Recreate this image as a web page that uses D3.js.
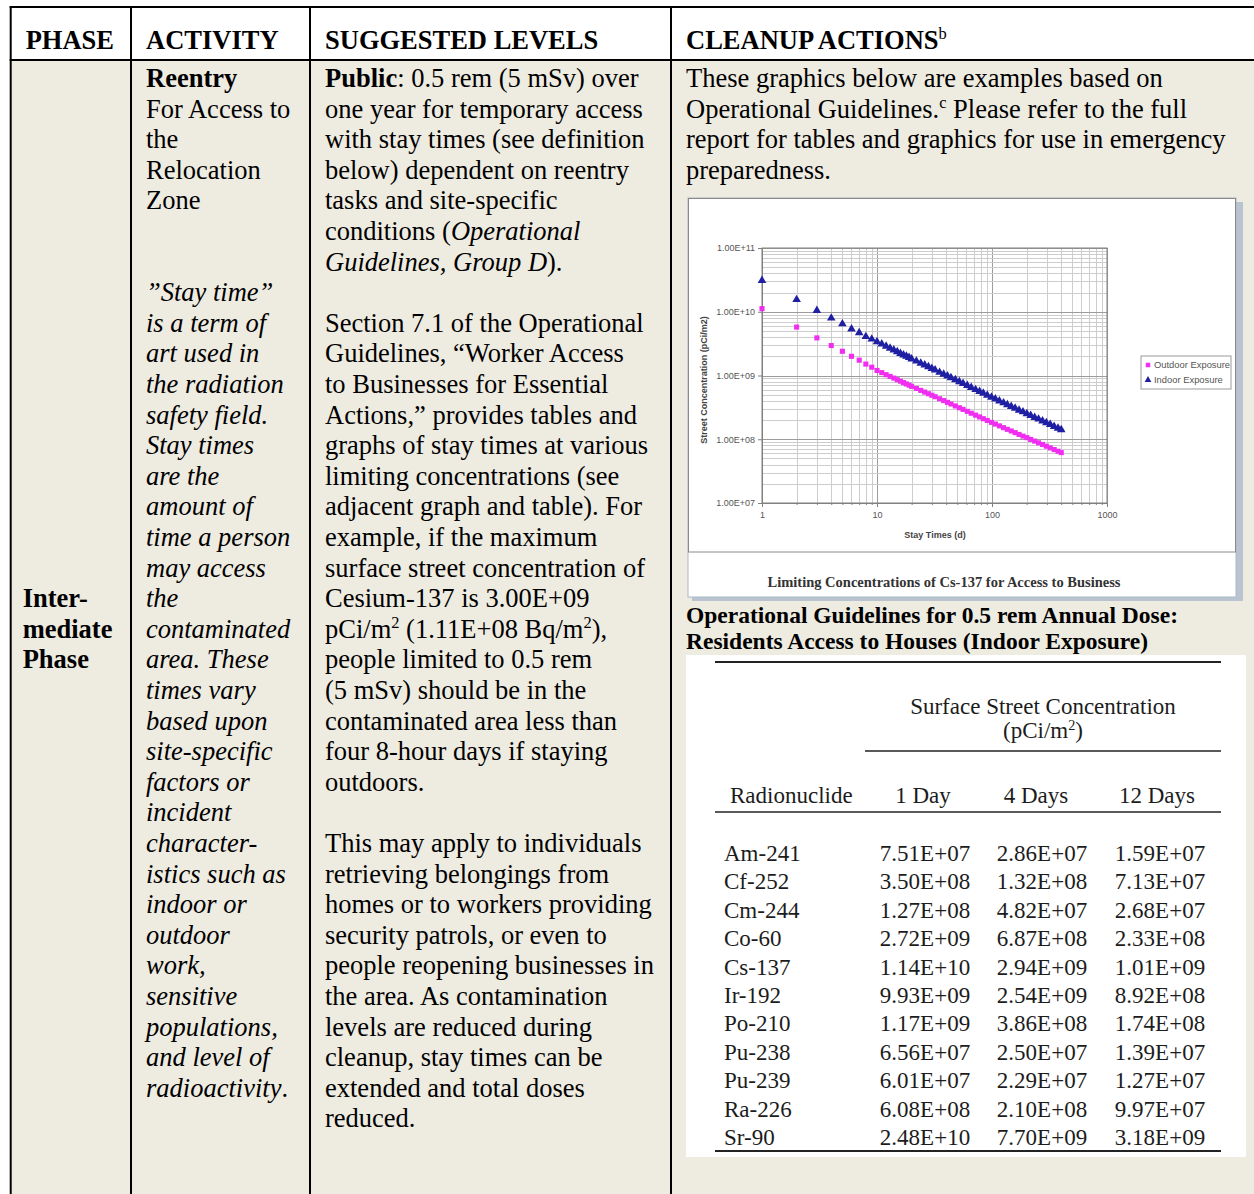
<!DOCTYPE html>
<meta charset="utf-8">
<script src="https://cdn.jsdelivr.net/npm/d3@7/dist/d3.min.js"></script>
<style>
  body { margin: 0; background: #fff; }
  svg text { white-space: pre; }
</style>

<svg width="1254" height="1194"></svg>

<script>
// ---------- table text ----------
// markup: **bold**, _italic_, ^superscript^
var headers = ["PHASE", "ACTIVITY", "SUGGESTED LEVELS", "CLEANUP ACTIONS^b^"];

var phaseLines = ["Inter-", "mediate", "Phase"];

var activityLines = [
  "**Reentry**", "For Access to", "the", "Relocation", "Zone", "", "",
  "_\u201dStay time\u201d_", "_is a term of_", "_art used in_", "_the radiation_",
  "_safety field._", "_Stay times_", "_are the_", "_amount of_", "_time a person_",
  "_may access_", "_the_", "_contaminated_", "_area. These_", "_times vary_",
  "_based upon_", "_site-specific_", "_factors or_", "_incident_", "_character-_",
  "_istics such as_", "_indoor or_", "_outdoor_", "_work,_", "_sensitive_",
  "_populations,_", "_and level of_", "_radioactivity_."
];

var levelLines = [
  "**Public**: 0.5 rem (5 mSv) over",
  "one year for temporary access",
  "with stay times (see definition",
  "below) dependent on reentry",
  "tasks and site-specific",
  "conditions (_Operational_",
  "_Guidelines, Group D_).",
  "",
  "Section 7.1 of the Operational",
  "Guidelines, \u201cWorker Access",
  "to Businesses for Essential",
  "Actions,\u201d provides tables and",
  "graphs of stay times at various",
  "limiting concentrations (see",
  "adjacent graph and table). For",
  "example, if the maximum",
  "surface street concentration of",
  "Cesium-137 is 3.00E+09",
  "pCi/m^2^ (1.11E+08 Bq/m^2^),",
  "people limited to 0.5 rem",
  "(5 mSv) should be in the",
  "contaminated area less than",
  "four 8-hour days if staying",
  "outdoors.",
  "",
  "This may apply to individuals",
  "retrieving belongings from",
  "homes or to workers providing",
  "security patrols, or even to",
  "people reopening businesses in",
  "the area. As contamination",
  "levels are reduced during",
  "cleanup, stay times can be",
  "extended and total doses",
  "reduced."
];

var cleanupLines = [
  "These graphics below are examples based on",
  "Operational Guidelines.^c^ Please refer to the full",
  "report for tables and graphics for use in emergency",
  "preparedness."
];

// ---------- chart data ----------
var chartTitle = "Limiting Concentrations of Cs-137 for Access to Business";
var seriesNames = ["Outdoor Exposure", "Indoor Exposure"];
var xTitle = "Stay Times (d)";
var yTitle = "Street Concentration (pCi/m2)";
var xTicks = [1, 10, 100, 1000];
var yTicks = [1e7, 1e8, 1e9, 1e10, 1e11];

var stayDays = [1, 2, 3, 4, 5, 6, 7, 8, 9, 10, 11, 12, 13, 14, 15, 16, 17, 18, 19, 20,
  22, 24, 26, 28, 30, 32, 35, 38, 41, 44, 48, 52, 56, 61, 66, 72, 78, 84, 91, 99,
  107, 116, 126, 136, 147, 159, 172, 186, 201, 217, 235, 254, 275, 297, 321, 347, 375, 400];

var outdoorConc = [1.12e10, 5.75e9, 3.89e9, 2.95e9, 2.40e9, 2.00e9, 1.74e9, 1.51e9, 1.35e9, 1.20e9,
  1.11e9, 1.03e9, 9.68e8, 9.10e8, 8.59e8, 8.14e8, 7.74e8, 7.38e8, 7.06e8, 6.76e8,
  6.27e8, 5.85e8, 5.49e8, 5.18e8, 4.90e8,
  4.65e8, 4.32e8, 4.04e8, 3.79e8, 3.58e8, 3.33e8, 3.12e8, 2.94e8,
  2.74e8, 2.56e8, 2.39e8, 2.24e8, 2.10e8, 1.97e8, 1.84e8,
  1.73e8, 1.62e8, 1.52e8, 1.43e8, 1.35e8, 1.27e8, 1.19e8, 1.12e8,
  1.06e8, 9.94e7, 9.35e7, 8.80e7, 8.27e7, 7.78e7, 7.32e7, 6.90e7, 6.49e7, 6.17e7];

var indoorConc = [3.09e10, 1.55e10, 1.05e10, 7.94e9, 6.46e9, 5.37e9, 4.68e9, 4.07e9, 3.72e9, 3.39e9,
  3.11e9, 2.88e9, 2.68e9, 2.51e9, 2.36e9, 2.22e9, 2.10e9, 2.00e9, 1.91e9, 1.82e9,
  1.68e9, 1.56e9, 1.46e9, 1.37e9, 1.29e9,
  1.22e9, 1.12e9, 1.05e9, 9.82e8, 9.25e8, 8.55e8, 7.98e8, 7.48e8,
  6.95e8, 6.49e8, 6.01e8, 5.61e8, 5.26e8, 4.91e8, 4.56e8,
  4.27e8, 3.99e8, 3.72e8, 3.49e8, 3.27e8, 3.06e8, 2.86e8, 2.69e8,
  2.51e8, 2.36e8, 2.20e8, 2.07e8, 1.93e8, 1.81e8, 1.70e8, 1.59e8, 1.49e8, 1.41e8];

// ---------- concentration table ----------
var tableCaption = ["Operational Guidelines for 0.5 rem Annual Dose:",
  "Residents Access to Houses (Indoor Exposure)"];
var tableGroup = ["Surface Street Concentration", "(pCi/m^2^)"];
var tableHead = ["Radionuclide", "1 Day", "4 Days", "12 Days"];
var nuclides = ["Am-241", "Cf-252", "Cm-244", "Co-60", "Cs-137", "Ir-192",
  "Po-210", "Pu-238", "Pu-239", "Ra-226", "Sr-90"];
var conc1Day = [7.51e7, 3.50e8, 1.27e8, 2.72e9, 1.14e10, 9.93e9, 1.17e9, 6.56e7, 6.01e7, 6.08e8, 2.48e10];
var conc4Days = [2.86e7, 1.32e8, 4.82e7, 6.87e8, 2.94e9, 2.54e9, 3.86e8, 2.50e7, 2.29e7, 2.10e8, 7.70e9];
var conc12Days = [1.59e7, 7.13e7, 2.68e7, 2.33e8, 1.01e9, 8.92e8, 1.74e8, 1.39e7, 1.27e7, 9.97e7, 3.18e9];

// ---------- layout ----------
var svg = d3.select("svg"),
  width = +svg.attr("width"),
  height = +svg.attr("height");

var serif = "'Liberation Serif', 'Times New Roman', serif",
  sans = "'Liberation Sans', Arial, sans-serif";

var colX = [10.7, 131, 310, 671],
  pad = 15,
  topY = 7,
  headY = 60,
  bodyFont = 26.5,
  lineH = 30.6,
  base0 = 87;

//Writes one line with **bold**, _italic_ and ^sup^ runs
function richText(g, x, y, str, fs, opts) {
  opts = opts || {};
  var t = g.append("text")
    .attr("x", x)
    .attr("y", y)
    .attr("font-family", opts.family || serif)
    .attr("font-size", fs)
    .attr("fill", opts.fill || "#000")
    .attr("text-anchor", opts.anchor || "start")
    .attr("font-weight", opts.bold ? "bold" : "normal");
  var parts = str.split(/(\*\*[^*]+\*\*|_[^_]+_|\^[^^]+\^)/).filter(function(s) { return s.length; });
  var shift = 0;
  parts.forEach(function(p) {
    var s = t.append("tspan"), target = 0;
    if (p.indexOf("**") == 0) {
      s.attr("font-weight", "bold");
      p = p.slice(2, -2);
    } else if (p[0] == "_") {
      s.attr("font-style", "italic");
      p = p.slice(1, -1);
    } else if (p[0] == "^") {
      s.attr("font-size", fs * 0.62).attr("font-weight", "normal");
      p = p.slice(1, -1);
      target = -0.36 * fs;
    }
    s.attr("dy", target - shift).text(p);
    shift = target;
  });
  return t;
}

//Background: white header, beige body
svg.append("rect").attr("width", width).attr("height", height).attr("fill", "#fff");
svg.append("rect")
  .attr("x", colX[0]).attr("y", headY)
  .attr("width", width - colX[0]).attr("height", height - headY)
  .attr("fill", "#eeebe1");

//Grid lines of the table
var rules = svg.append("g").attr("stroke", "#000").attr("stroke-width", 2);
rules.append("line").attr("x1", colX[0] - 1).attr("x2", width).attr("y1", topY).attr("y2", topY);
rules.append("line").attr("x1", colX[0] - 1).attr("x2", width).attr("y1", headY).attr("y2", headY);
rules.selectAll("line.col")
  .data(colX)
  .enter()
  .append("line")
  .attr("class", "col")
  .attr("x1", function(d) { return d; })
  .attr("x2", function(d) { return d; })
  .attr("y1", topY - 1)
  .attr("y2", height);

//Header row
var head = svg.append("g");
headers.forEach(function(h, i) {
  richText(head, colX[i] + pad, 49, h, bodyFont, { bold: true });
});

//Body columns
var body = svg.append("g");
function column(lines, x, start, bold) {
  lines.forEach(function(l, i) {
    if (l) richText(body, x, base0 + (start + i) * lineH, l, bodyFont, { bold: bold });
  });
}
column(phaseLines, colX[0] + pad - 3, 17, true);
column(activityLines, colX[1] + pad, 0, false);
column(levelLines, colX[2] + pad, 0, false);
column(cleanupLines, colX[3] + pad, 0, false);

// ---------- embedded graph ----------
var chart = svg.append("g");

chart.append("rect")
  .attr("x", 692).attr("y", 202).attr("width", 551).attr("height", 399)
  .attr("fill", "#b9c4d0");
chart.append("rect")
  .attr("x", 688).attr("y", 198).attr("width", 548).attr("height", 399)
  .attr("fill", "#fff").attr("stroke", "#a9b8c6");
chart.append("rect")
  .attr("x", 688.5).attr("y", 198.5).attr("width", 547).attr("height", 353.5)
  .attr("fill", "none").attr("stroke", "#8a8a8a");

var x = d3.scaleLog().domain([1, 1000]).range([762, 1107]);
var y = d3.scaleLog().domain([1e7, 1e11]).range([503, 248]);

var isDecade = function(v) {
  var l = Math.log10(v);
  return Math.abs(l - Math.round(l)) < 1e-9;
};

//Major and minor gridlines
var grid = chart.append("g").attr("shape-rendering", "crispEdges");
grid.selectAll("line.v")
  .data(x.ticks())
  .enter()
  .append("line")
  .attr("x1", function(d) { return Math.round(x(d)) + 0.5; })
  .attr("x2", function(d) { return Math.round(x(d)) + 0.5; })
  .attr("y1", y.range()[1])
  .attr("y2", y.range()[0])
  .attr("stroke", function(d) { return isDecade(d) ? "#9c9c9c" : "#cdcdcd"; });
grid.selectAll("line.h")
  .data(y.ticks())
  .enter()
  .append("line")
  .attr("y1", function(d) { return Math.round(y(d)) + 0.5; })
  .attr("y2", function(d) { return Math.round(y(d)) + 0.5; })
  .attr("x1", x.range()[0])
  .attr("x2", x.range()[1])
  .attr("stroke", function(d) { return isDecade(d) ? "#9c9c9c" : "#cdcdcd"; });

chart.append("rect")
  .attr("x", x.range()[0]).attr("y", y.range()[1])
  .attr("width", x.range()[1] - x.range()[0])
  .attr("height", y.range()[0] - y.range()[1])
  .attr("fill", "none").attr("stroke", "#808080");

//Axes
var fmtE = function(v) {
  var e = Math.round(Math.log10(v));
  return "1.00E+" + (e < 10 ? "0" + e : e);
};

function styleAxis(g) {
  g.selectAll("path, line").attr("stroke", "#808080");
  g.selectAll("text").attr("font-family", sans).attr("font-size", 9).attr("fill", "#555");
}

chart.append("g")
  .attr("transform", "translate(" + x.range()[0] + ",0)")
  .call(d3.axisLeft(y).tickValues(yTicks).tickFormat(fmtE).tickSize(4).tickPadding(3))
  .call(styleAxis);

chart.append("g")
  .attr("transform", "translate(0," + y.range()[0] + ")")
  .call(d3.axisBottom(x).tickValues(xTicks).tickFormat(d3.format("d")).tickSize(4).tickPadding(5))
  .call(styleAxis);

chart.append("g")
  .attr("transform", "translate(0," + y.range()[0] + ")")
  .call(d3.axisBottom(x).tickValues(x.ticks()).tickFormat("").tickSize(2))
  .call(styleAxis);

chart.append("text")
  .attr("transform", "translate(707,380) rotate(-90)")
  .attr("text-anchor", "middle")
  .attr("font-family", sans).attr("font-size", 9).attr("font-weight", "bold")
  .attr("fill", "#444")
  .text(yTitle);

chart.append("text")
  .attr("x", 935).attr("y", 538)
  .attr("text-anchor", "middle")
  .attr("font-family", sans).attr("font-size", 9).attr("font-weight", "bold")
  .attr("fill", "#444")
  .text(xTitle);

//Series
var series = [
  { name: seriesNames[0], values: outdoorConc, color: "#f02ef0", symbol: d3.symbolSquare, size: 26 },
  { name: seriesNames[1], values: indoorConc, color: "#1f1fa3", symbol: d3.symbolTriangle, size: 32 }
];

series.forEach(function(s) {
  chart.append("g")
    .attr("fill", s.color)
    .selectAll("path")
    .data(stayDays)
    .enter()
    .append("path")
    .attr("d", d3.symbol().type(s.symbol).size(s.size))
    .attr("transform", function(d, i) {
      return "translate(" + x(d) + "," + y(s.values[i]) + ")";
    });
});

//Legend
var legend = chart.append("g");
legend.append("rect")
  .attr("x", 1141).attr("y", 356).attr("width", 90).attr("height", 33)
  .attr("fill", "#fff").attr("stroke", "#9a9a9a");
series.forEach(function(s, i) {
  var ly = 365 + i * 15;
  legend.append("path")
    .attr("d", d3.symbol().type(s.symbol).size(20))
    .attr("transform", "translate(1148," + ly + ")")
    .attr("fill", s.color);
  legend.append("text")
    .attr("x", 1154).attr("y", ly).attr("dy", "0.35em")
    .attr("font-family", sans).attr("font-size", 9.4).attr("fill", "#555")
    .text(s.name);
});

chart.append("text")
  .attr("x", 944).attr("y", 586.5)
  .attr("text-anchor", "middle")
  .attr("font-family", serif).attr("font-size", 14.5).attr("font-weight", "bold")
  .attr("fill", "#333")
  .text(chartTitle);

// ---------- table of limiting concentrations ----------
var tbl = svg.append("g");

tableCaption.forEach(function(c, i) {
  richText(tbl, colX[3] + pad, 623 + i * 26, c, 23.5, { bold: true });
});

tbl.append("rect")
  .attr("x", 686).attr("y", 655).attr("width", 560).attr("height", 502)
  .attr("fill", "#fff");

var trule = tbl.append("g").attr("stroke", "#222");
[[715, 662, 2.2], [865, 751, 1.5], [715, 812, 1.5], [715, 1151, 2.2]].forEach(function(r) {
  trule.append("line")
    .attr("x1", r[0]).attr("x2", 1221)
    .attr("y1", r[1]).attr("y2", r[1])
    .attr("stroke-width", r[2]);
});

var ink = "#1c1c1c";
richText(tbl, 1043, 714, tableGroup[0], 23, { anchor: "middle", fill: ink });
richText(tbl, 1043, 738, tableGroup[1], 23, { anchor: "middle", fill: ink });

var headX = [730, 923, 1036, 1157];
tableHead.forEach(function(h, i) {
  richText(tbl, headX[i], 803, h, 23, { anchor: i ? "middle" : "start", fill: ink });
});

var rowY = d3.scalePoint().domain(nuclides).range([861, 1145]);
var fmtConc = function(v) {
  return v.toExponential(2).toUpperCase().replace(/E([+-])(\d)$/, "E$10$2");
};
var valueCols = [
  { values: conc1Day, cx: 925 },
  { values: conc4Days, cx: 1042 },
  { values: conc12Days, cx: 1160 }
];

var rows = tbl.append("g")
  .attr("font-family", serif).attr("font-size", 23).attr("fill", ink);

rows.selectAll("text.name")
  .data(nuclides)
  .enter()
  .append("text")
  .attr("class", "name")
  .attr("x", 724)
  .attr("y", function(d) { return rowY(d); })
  .text(function(d) { return d; });

valueCols.forEach(function(c) {
  rows.selectAll(null)
    .data(c.values)
    .enter()
    .append("text")
    .attr("x", c.cx)
    .attr("y", function(d, i) { return rowY(nuclides[i]); })
    .attr("text-anchor", "middle")
    .text(fmtConc);
});
</script>
